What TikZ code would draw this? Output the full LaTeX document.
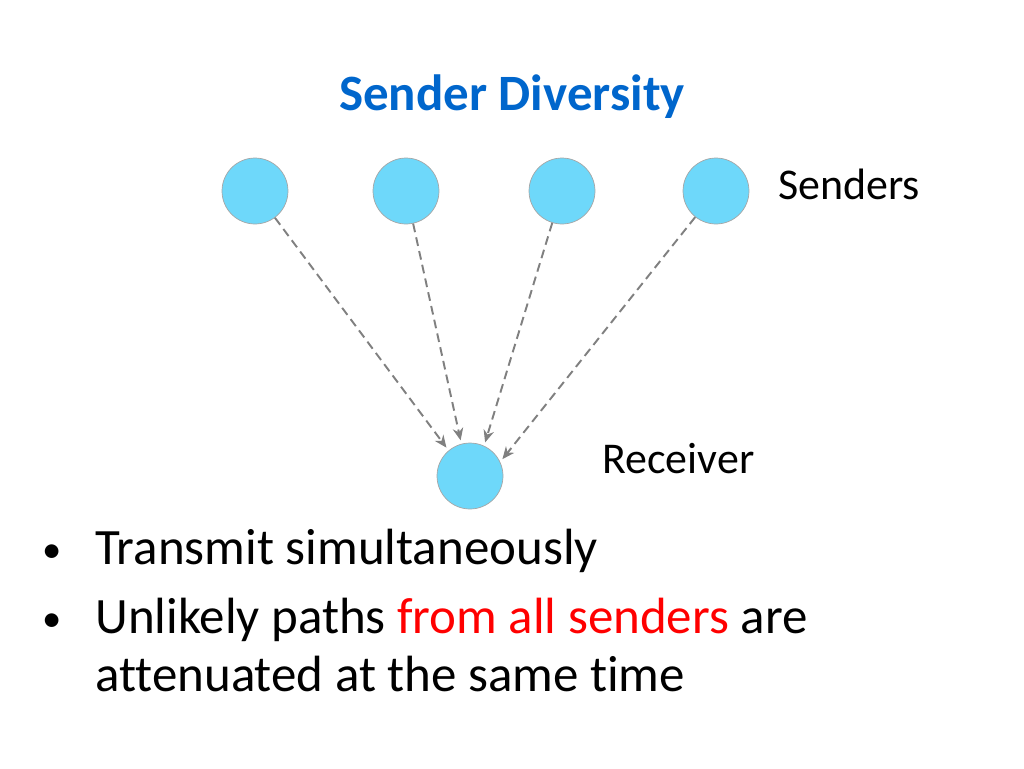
\documentclass[tikz,border=0pt]{standalone}
\usepackage{fontspec}
\setmainfont[Ligatures={NoCommon}]{Carlito}
\usetikzlibrary{positioning,arrows.meta}
\definecolor{nodeblue}{RGB}{110,216,250}
\definecolor{titleblue}{RGB}{0,102,204}
\tikzset{
  station/.style={draw=gray!70, fill=nodeblue, circle, minimum size=1.32cm, inner sep=0pt},
  path/.style={-{Stealth[length=7pt,width=6pt]}, dash pattern=on 5pt off 3pt, draw=gray, line width=1.1pt, shorten >=2pt},
  label/.style={anchor=west, inner sep=0pt}
}
\begin{document}
\begin{tikzpicture}[x=0.02cm,y=-0.02cm]
    \useasboundingbox (0,0) rectangle (1024,768);
    % Title
    \node (title) at (512,97) {\fontsize{29}{34}\selectfont\bfseries\color{titleblue}Sender Diversity};

    % Nodes
    \node (s1) [station] at (255,191) {};
    \node (s2) [station] at (406,191) {};
    \node (s3) [station] at (562,191) {};
    \node (s4) [station] at (716,191) {};
    \node (rx) [station] at (470,476) {};
    \node (senders) [label] at (778,184) {\fontsize{25}{30}\selectfont Senders};
    \node (receiver) [label] at (602,459) {\fontsize{25}{30}\selectfont Receiver};

    % Arrows
    \draw [path] (s1) -- (rx.130);
    \draw [path] (s2) -- (rx.105);
    \draw [path] (s3) -- (rx.65);
    \draw [path] (s4) -- (rx.25);

    % Bullets
    \node (b1) [label] at (42,551) {\fontsize{29}{34}\selectfont \makebox[1.06cm][l]{\raisebox{1pt}{\fontsize{22}{22}\selectfont•}}Transmit simultaneously};
    \node (b2) [label] at (42,620) {\fontsize{29}{34}\selectfont \makebox[1.06cm][l]{\raisebox{1pt}{\fontsize{22}{22}\selectfont•}}Unlikely paths \textcolor{red}{from all senders} are};
    \node (b3) [label] at (95,674) {\fontsize{29}{34}\selectfont attenuated at the same time};
\end{tikzpicture}
\end{document}
